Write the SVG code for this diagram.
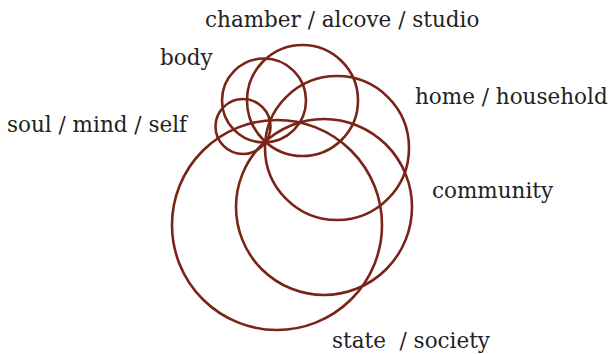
<svg xmlns="http://www.w3.org/2000/svg" width="612" height="354" viewBox="0 0 612 354">
<style>
.c{fill:none;stroke:#7a2418;stroke-width:2.6}
.t{font-family:"DejaVu Serif","Liberation Serif",serif;font-size:21.5px;fill:#222}
</style>
<rect width="612" height="354" fill="#fff"/>
<g id="connectors"></g>
<g id="soul"><circle class="c" cx="243" cy="126.5" r="27.5"/><text class="t" x="7" y="132">soul / mind / self</text></g>
<g id="body"><circle class="c" cx="264" cy="100.5" r="42"/><text class="t" x="160" y="65">body</text></g>
<g id="chamber"><circle class="c" cx="302.5" cy="100.5" r="55.5"/><text class="t" x="205" y="27">chamber / alcove / studio</text></g>
<g id="home"><circle class="c" cx="337" cy="148" r="72"/><text class="t" x="415" y="104">home / household</text></g>
<g id="community"><circle class="c" cx="324" cy="207" r="88"/><text class="t" x="432" y="198">community</text></g>
<g id="state"><circle class="c" cx="277" cy="225" r="105"/><text class="t" x="332" y="348" xml:space="preserve">state  / society</text></g>
</svg>
